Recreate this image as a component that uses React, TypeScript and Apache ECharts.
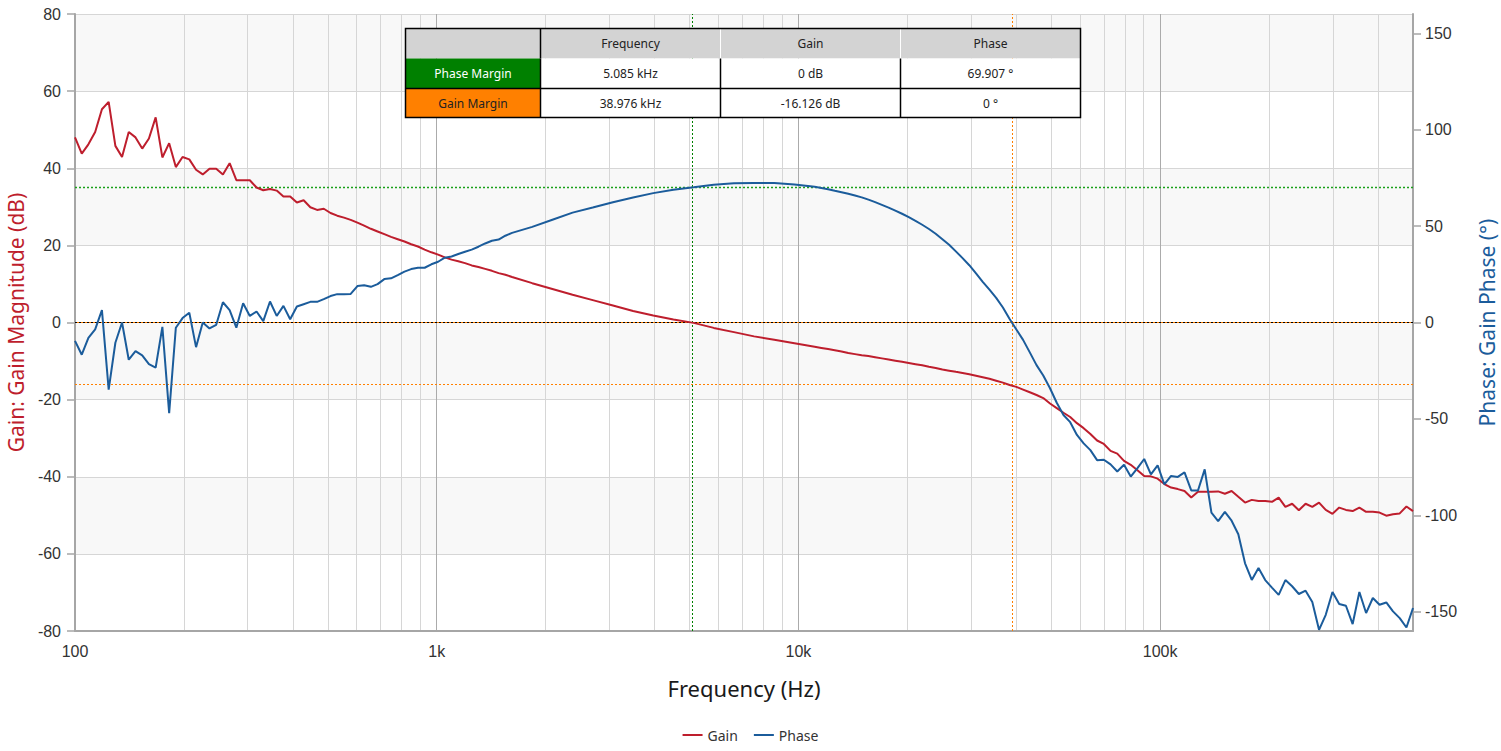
import React, { useEffect, useRef } from 'react';
import * as echarts from 'echarts';

// Sweep frequencies (Hz)
const freqHz = [
  100, 104.4, 108.9, 113.7, 118.7, 123.9, 129.3, 134.9, 140.8, 147.0,
  153.4, 160.1, 167.1, 174.4, 182.1, 190.0, 198.3, 207.0, 216.1, 225.5,
  235.4, 245.7, 256.4, 267.6, 279.3, 291.6, 304.3, 317.6, 331.5, 346.0,
  361.1, 376.9, 393.4, 410.6, 428.6, 447.3, 466.9, 487.3, 508.6, 530.8,
  554.1, 578.3, 603.6, 630.0, 657.5, 686.3, 716.3, 747.6, 780.3, 814.4,
  850.0, 887.2, 926.0, 966.5, 1008.8, 1052.9, 1098.9, 1147.1, 1197.2, 1249.4,
  1304.1, 1361.2, 1420.8, 1482.8, 1547.7, 1615.3,
  1836.6, 2088.3, 2374.5, 2700.1, 3070.1, 3490.2, 3968.5, 4512.2, 5130.2, 5833.1,
  6632.8, 7541.3, 8574.5, 9749.5,
  11086, 11571, 12077, 12604, 13156, 13731, 14331, 14958, 15612, 16295,
  17008, 17752, 18528, 19338, 20184, 21066, 21987, 22950, 23953, 25001,
  26094, 27234, 28426, 29669, 30967, 32320, 33734, 35210, 36749, 38355,
  40033, 41784, 43610, 45518, 47509,
  49600, 51770, 54040, 56400, 58870, 61440, 64130, 66930, 69860, 72920,
  76110, 79440, 82910, 86540, 90330, 94280, 98400, 102700, 107190, 111880,
  116770, 121880, 127210, 132770, 138580, 144640, 150970, 157570, 164460, 171660,
  179160, 187000, 195180, 203720, 212630, 221930, 231640, 241770, 252340, 263380,
  274900, 286920, 299470, 312570, 326240, 340510, 355400, 370950, 387170, 404110,
  421780, 440230, 459490, 479580, 500000,
];

// Gain magnitude (dB)
const gainDb = [
  48.0, 43.8, 46.2, 49.4, 55.3, 57.2, 45.8, 42.9, 49.4, 48.0,
  45.1, 47.7, 53.2, 42.8, 46.5, 40.3, 42.9, 42.3, 39.6, 38.4,
  39.9, 39.9, 38.4, 41.3, 36.9, 36.9, 36.9, 35.0, 34.3, 34.6,
  34.2, 32.7, 32.7, 31.1, 31.7, 29.9, 29.2, 29.5, 28.4, 27.7,
  27.2, 26.6, 25.9, 25.1, 24.3, 23.6, 22.9, 22.2, 21.6, 21.0,
  20.3, 19.7, 18.9, 18.2, 17.6, 16.9, 16.3, 15.9, 15.4, 14.8,
  14.4, 13.9, 13.4, 12.8, 12.4, 11.8,
  10.2, 8.7, 7.2, 5.8, 4.4, 3.0, 1.8, 0.8, -0.1, -1.4,
  -2.5, -3.6, -4.5, -5.4,
  -6.3, -6.6, -6.9, -7.2, -7.5, -7.9, -8.2, -8.5, -8.7, -9.0,
  -9.3, -9.6, -9.9, -10.2, -10.5, -10.8, -11.1, -11.5, -11.8, -12.2,
  -12.5, -12.8, -13.1, -13.4, -13.8, -14.2, -14.6, -15.1, -15.6, -16.2,
  -16.7, -17.4, -18.1, -18.8, -19.6,
  -21.0, -22.2, -23.4, -24.5, -26.1, -27.4, -28.9, -30.6, -31.5, -33.3,
  -34.0, -35.9, -36.9, -38.3, -39.8, -39.9, -40.5, -41.9, -42.8, -43.2,
  -43.7, -45.4, -43.9, -43.9, -43.9, -43.8, -44.4, -43.7, -45.2, -46.7,
  -46.0, -46.3, -46.3, -46.5, -45.4, -47.8, -47.0, -48.7, -47.0, -47.8,
  -46.7, -48.6, -49.6, -48.0, -48.6, -48.9, -48.0, -49.1, -49.1, -49.3,
  -50.1, -49.7, -49.5, -47.7, -48.9,
];

// Gain phase (degrees)
const phaseDeg = [
  -9.5, -16.7, -8.0, -3.6, 6.4, -34.8, -10.5, 0.0, -19.3, -14.9,
  -17.0, -21.6, -23.4, -2.3, -47.0, -2.7, 2.3, 5.1, -12.8, 0.0,
  -3.1, -1.2, 10.5, 6.4, -2.7, 10.0, 3.4, 5.7, 0.7, 10.9,
  3.4, 8.6, 1.7, 8.3, 9.5, 10.7, 10.7, 12.1, 13.7, 14.7,
  14.6, 14.8, 18.9, 19.3, 18.5, 19.9, 22.5, 22.9, 24.6, 26.4,
  27.7, 28.4, 28.4, 30.2, 31.5, 33.6, 34.2, 35.5, 36.7, 37.8,
  39.3, 41.0, 42.4, 43.0, 45.0, 46.5,
  49.6, 53.3, 57.0, 59.6, 62.4, 64.8, 67.1, 68.9, 70.1, 71.5,
  72.2, 72.3, 72.3, 71.6,
  70.4, 69.8, 69.1, 68.3, 67.6, 66.8, 65.9, 64.9, 63.7, 62.4,
  61.0, 59.6, 58.0, 56.4, 54.6, 52.7, 50.7, 48.5, 46.0, 43.2,
  40.3, 36.9, 33.4, 29.7, 25.5, 21.1, 17.0, 12.8, 7.8, 1.8,
  -3.6, -9.0, -15.5, -22.1, -27.5,
  -34.1, -41.6, -48.0, -51.7, -58.3, -62.7, -66.2, -71.4, -71.2, -73.6,
  -77.3, -73.8, -79.9, -75.5, -70.8, -78.8, -74.1, -83.9, -79.6, -80.1,
  -77.7, -87.1, -87.1, -76.2, -98.6, -103.0, -98.2, -102.8, -109.8, -124.9,
  -133.5, -127.3, -133.6, -137.5, -141.3, -133.6, -136.8, -140.8, -139.1, -145.0,
  -159.4, -151.6, -139.8, -146.0, -146.9, -156.4, -139.8, -150.7, -142.9, -146.4,
  -145.2, -149.8, -153.3, -158.2, -148.1,
];

// Log grid lines (decades + 2..9 multiples)
const gridFreqs = [
  100, 200, 300, 400, 500, 600, 700, 800, 900,
  1000, 2000, 3000, 4000, 5000, 6000, 7000, 8000, 9000,
  10000, 20000, 30000, 40000, 50000, 60000, 70000, 80000, 90000,
  100000, 200000, 300000, 400000, 500000,
];
const freqLabels = [100, 1000, 10000, 100000];
const phaseTicks = [-150, -100, -50, 0, 50, 100, 150];

// Stability margins
const PM_FREQ = 5085;
const PM_PHASE = 69.907;
const GM_FREQ = 38976;
const GM_GAIN = -16.126;

const tableHeader = ['', 'Frequency', 'Gain', 'Phase'];
const phaseMarginRow = ['Phase Margin', '5.085 kHz', '0 dB', '69.907 °'];
const gainMarginRow = ['Gain Margin', '38.976 kHz', '-16.126 dB', '0 °'];

const GAIN_COLOR = '#be1e2d';
const PHASE_COLOR = '#1b5c9b';
const GREEN = '#008000';
const PM_LINE_GREEN = '#1aa01a';
const ORANGE = '#ff8000';
const AXIS_GRAY = '#a6a6a6';
const GRID_GRAY = '#d6d6d6';
const MAJOR_GRAY = '#ababab';
const UI_FONT = '"Noto Sans", "Open Sans", sans-serif';
const NUM_FONT = '"Liberation Sans", Arial, sans-serif';

function buildTable() {
  const colW = [135, 180, 180, 180];
  const rowH = [30, 30, 29];
  const rows = [tableHeader, phaseMarginRow, gainMarginRow];
  const Z = 100;
  const children: any[] = [];
  let y = 0;
  rows.forEach((row, r) => {
    let x = 0;
    row.forEach((txt, c) => {
      const fill = r === 0 ? '#d3d3d3' : c === 0 ? (r === 1 ? GREEN : ORANGE) : '#ffffff';
      children.push({ type: 'rect', z: Z, shape: { x, y, width: colW[c], height: rowH[r] }, style: { fill } });
      if (txt) {
        children.push({
          type: 'text',
          z: Z + 2,
          x: x + colW[c] / 2,
          y: y + rowH[r] / 2,
          style: {
            text: txt,
            fill: r === 1 && c === 0 ? '#ffffff' : '#222222',
            font: '12px ' + UI_FONT,
            align: 'center',
            verticalAlign: 'middle',
            textAlign: 'center',
            textVerticalAlign: 'middle',
          },
        });
      }
      x += colW[c];
    });
    y += rowH[r];
  });
  const totalW = colW.reduce((a, b) => a + b, 0);
  const totalH = rowH.reduce((a, b) => a + b, 0);
  let cx = 0;
  colW.slice(0, -1).forEach((w, c) => {
    cx += w;
    children.push({
      type: 'line',
      z: Z + 1,
      shape: { x1: cx, y1: 0, x2: cx, y2: rowH[0] },
      style: { stroke: c === 0 ? '#000000' : '#ffffff', lineWidth: c === 0 ? 1.5 : 1 },
    });
    children.push({
      type: 'line',
      z: Z + 1,
      shape: { x1: cx, y1: rowH[0], x2: cx, y2: totalH },
      style: { stroke: '#000000', lineWidth: 1.5 },
    });
  });
  children.push({
    type: 'line',
    z: Z + 1,
    shape: { x1: 0, y1: rowH[0] + rowH[1], x2: totalW, y2: rowH[0] + rowH[1] },
    style: { stroke: '#000000', lineWidth: 1.5 },
  });
  children.push({
    type: 'rect',
    z: Z + 1,
    shape: { x: 0, y: 0, width: totalW, height: totalH },
    style: { fill: 'none', stroke: '#000000', lineWidth: 1.5 },
  });
  return { type: 'group', left: 403, top: 26, z: Z, children };
}

export default function App() {
  const ref = useRef<HTMLDivElement>(null);

  useEffect(() => {
    if (!ref.current) return;
    const chart = echarts.init(ref.current, null, { renderer: 'svg' });

    const gainData = freqHz.map((f, i) => [f, gainDb[i]]);
    const phaseData = freqHz.map((f, i) => [f, phaseDeg[i]]);
    const dotted = (color: string) => ({ color, type: [2, 2], width: 1, opacity: 1 });
    const splitColors = [MAJOR_GRAY, GRID_GRAY, GRID_GRAY, GRID_GRAY, GRID_GRAY, GRID_GRAY, GRID_GRAY, GRID_GRAY, GRID_GRAY];

    const option: any = {
      animation: false,
      backgroundColor: '#ffffff',
      textStyle: { fontFamily: UI_FONT },
      grid: { left: 75, right: 88, top: 14, bottom: 120, containLabel: false, outerBoundsMode: 'none' },
      legend: {
        data: ['Gain', 'Phase'],
        bottom: 4,
        left: 'center',
        icon: 'rect',
        itemWidth: 20,
        itemHeight: 2,
        itemGap: 16,
        textStyle: { fontSize: 14, color: '#333333', fontFamily: UI_FONT },
      },
      xAxis: {
        type: 'log',
        logBase: 10,
        min: 100,
        max: 500000,
        name: 'Frequency (Hz)',
        nameLocation: 'middle',
        nameGap: 46,
        nameTextStyle: { fontSize: 22, color: '#1a1a1a', fontFamily: UI_FONT },
        axisLine: { show: true, onZero: false, lineStyle: { color: AXIS_GRAY, width: 2 } },
        axisTick: { show: false, customValues: gridFreqs },
        axisLabel: {
          customValues: freqLabels,
          formatter: (v: number) => (v >= 1000 ? v / 1000 + 'k' : String(v)),
          fontSize: 16,
          color: '#333333',
          margin: 12,
          fontFamily: NUM_FONT,
        },
        splitLine: { show: true, lineStyle: { color: splitColors, width: 1 } },
      },
      yAxis: [
        {
          type: 'value',
          min: -80,
          max: 80,
          interval: 20,
          position: 'left',
          name: 'Gain: Gain Magnitude (dB)',
          nameLocation: 'middle',
          nameRotate: 90,
          nameGap: 46,
          nameTextStyle: { fontSize: 21, color: GAIN_COLOR, fontFamily: UI_FONT },
          axisLine: { show: true, onZero: false, lineStyle: { color: AXIS_GRAY, width: 2 } },
          axisTick: { show: true, length: 8, lineStyle: { color: AXIS_GRAY, width: 1.5 } },
          axisLabel: { fontSize: 16, color: '#333333', margin: 14, fontFamily: NUM_FONT },
          splitLine: { show: true, lineStyle: { color: GRID_GRAY, width: 1 } },
          splitArea: { show: true, areaStyle: { color: ['#ffffff', '#f8f8f8'] } },
        },
        {
          type: 'value',
          min: -160,
          max: 160,
          position: 'right',
          name: 'Phase: Gain Phase (°)',
          nameLocation: 'middle',
          nameRotate: 90,
          nameGap: 63,
          nameTextStyle: { fontSize: 21, color: PHASE_COLOR, fontFamily: UI_FONT },
          axisLine: { show: true, onZero: false, lineStyle: { color: AXIS_GRAY, width: 2 } },
          axisTick: { show: true, length: 8, customValues: phaseTicks, lineStyle: { color: AXIS_GRAY, width: 1.5 } },
          axisLabel: { customValues: phaseTicks, fontSize: 16, color: '#333333', margin: 12, fontFamily: NUM_FONT },
          splitLine: { show: false },
          splitArea: { show: false },
        },
      ],
      series: [
        {
          name: 'Gain',
          type: 'line',
          xAxisIndex: 0,
          yAxisIndex: 0,
          data: gainData,
          symbol: 'none',
          showSymbol: false,
          lineStyle: { color: GAIN_COLOR, width: 2 },
          itemStyle: { color: GAIN_COLOR },
          z: 5,
          markLine: {
            silent: true,
            symbol: ['none', 'none'],
            label: { show: false },
            animation: false,
            lineStyle: dotted(ORANGE),
            data: [
              { xAxis: PM_FREQ, lineStyle: dotted(GREEN) },
              { xAxis: GM_FREQ, lineStyle: dotted(ORANGE) },
              { yAxis: GM_GAIN, lineStyle: dotted(ORANGE) },
              { yAxis: 0, lineStyle: { color: '#000000', type: [2, 2], width: 1 } },
            ],
          },
        },
        {
          name: 'Phase',
          type: 'line',
          xAxisIndex: 0,
          yAxisIndex: 1,
          data: phaseData,
          symbol: 'none',
          showSymbol: false,
          lineStyle: { color: PHASE_COLOR, width: 2 },
          itemStyle: { color: PHASE_COLOR },
          z: 6,
          markLine: {
            silent: true,
            symbol: ['none', 'none'],
            label: { show: false },
            animation: false,
            lineStyle: { color: PM_LINE_GREEN, type: [2, 2], width: 1.3 },
            data: [
              { yAxis: PM_PHASE, lineStyle: { color: PM_LINE_GREEN, type: [2, 2], width: 1.3 } },
              { yAxis: 0, lineStyle: { color: ORANGE, type: [2, 2], dashOffset: 2, width: 1 } },
            ],
          },
        },
      ],
      graphic: [buildTable()],
    };

    chart.setOption(option);
    return () => {
      chart.dispose();
    };
  }, []);

  return (
    <div
      ref={ref}
      style={{ position: 'fixed', left: 0, top: 0, width: 1501, height: 751, background: '#ffffff' }}
    />
  );
}
